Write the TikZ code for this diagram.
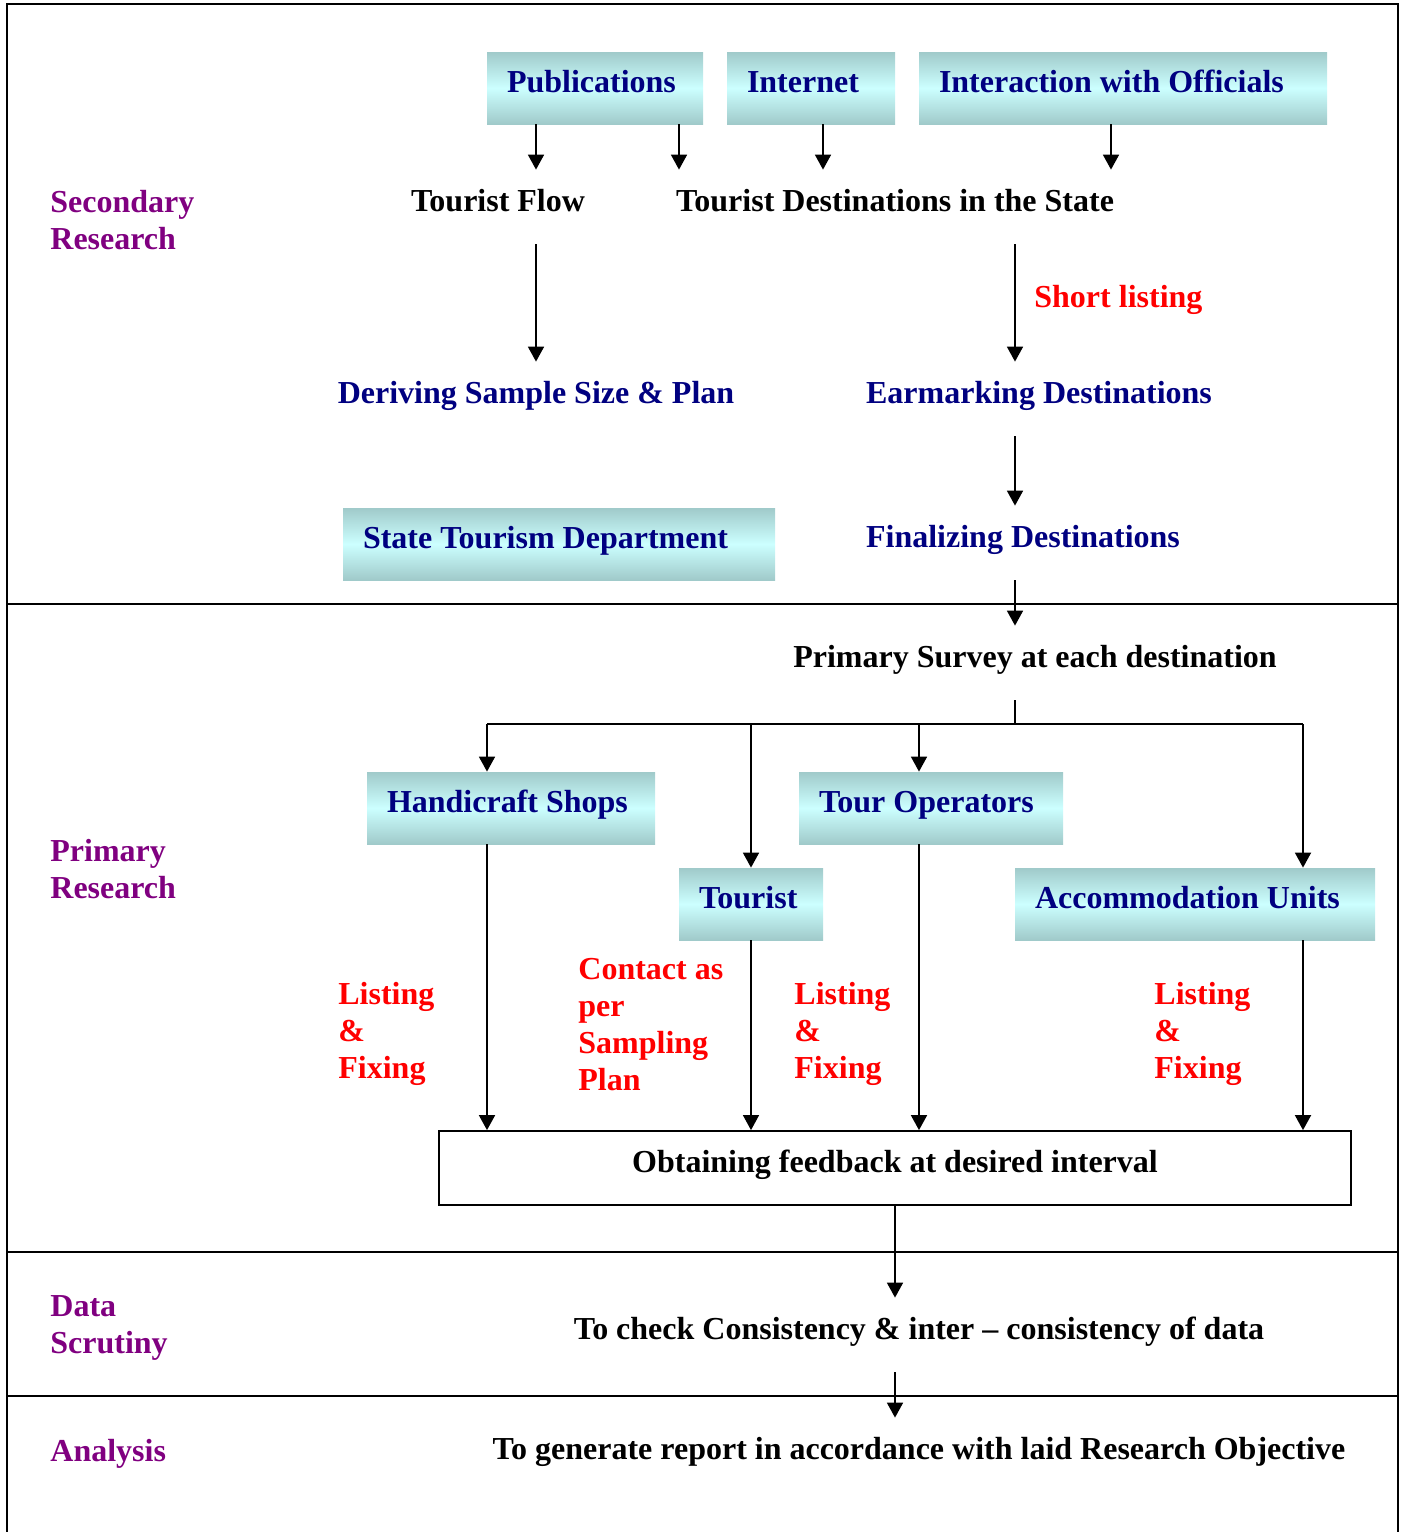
\documentclass[tikz,border=0pt]{standalone}
\usepackage{fontspec}
\setmainfont{Liberation Serif}
\usetikzlibrary{arrows.meta}
\definecolor{navytext}{RGB}{0,0,128}
\definecolor{purplelbl}{RGB}{128,0,128}
\definecolor{boxedge}{RGB}{160,202,202}
\definecolor{boxmid}{RGB}{204,255,255}
\begin{document}
\begin{tikzpicture}[x=0.5pt,y=-0.5pt]
  \tikzset{
    bf/.style={font=\fontsize{16}{18.5}\selectfont\bfseries},
    txt/.style={bf, text height=11pt, text depth=6.4pt, minimum height=37pt, inner xsep=0pt},
    srcbox/.style={txt, text=navytext, top color=boxedge, bottom color=boxedge, middle color=boxmid,
      minimum height=36pt, inner xsep=10pt, align=left, text width=#1,
      execute at begin node={\spaceskip=0pt\relax\xspaceskip=0pt\relax}},
    redlbl/.style={bf, text=red, align=left, anchor=north west, inner sep=0pt},
    seclbl/.style={bf, text=purplelbl, align=left, anchor=north west, inner sep=0pt},
    arr/.style={-{Triangle[width=8pt,length=7.5pt]}, line width=0.9pt}
  }
  \useasboundingbox (0,0) rectangle (1406,1532);

  % frame and bands
  \draw[line width=1pt] (7,1532) -- (7,4) -- (1398,4) -- (1398,1532);
  \draw[line width=1pt] (7,604) -- (1398,604);
  \draw[line width=1pt] (7,1252) -- (1398,1252);
  \draw[line width=1pt] (7,1396) -- (1398,1396);

  % band titles
  \node[seclbl] (secres) at (50,190) {Secondary\\Research};
  \node[seclbl] (primres) at (50,839) {Primary\\Research};
  \node[seclbl] (datascr) at (50,1295) {Data\\Scrutiny};
  \node[seclbl] (analys) at (50,1439) {Analysis};

  % secondary research
  \node[srcbox=88pt] (pub) at (595,88) {Publications};
  \node[srcbox=64pt] (inet) at (811,88) {Internet};
  \node[srcbox=184pt] (offic) at (1123,88) {Interaction with Officials};
  \node[txt] (tflow) at (498,207) {Tourist Flow};
  \node[txt] (tdest) at (895,207) {Tourist Destinations in the State};
  \node[txt, text=navytext] (deriv) at (536,399) {Deriving Sample Size \& Plan};
  \node[txt, text=navytext] (earmark) at (1039,399) {Earmarking Destinations};
  \node[txt, text=red, anchor=west] (shortl) at (1034,303) {Short listing};
  \node[srcbox=196pt] (state) at (559,544) {State Tourism Department};
  \node[txt, text=navytext] (final) at (1023,543) {Finalizing Destinations};

  \coordinate (colb) at (679,0);
  \coordinate (colc) at (823,0);
  \coordinate (cold) at (1111,0);
  \coordinate (spine) at (1015,0);

  \draw[arr] (pub.south -| deriv) -- (tflow.north -| deriv);
  \draw[arr] (pub.south -| colb) -- (tdest.north -| colb);
  \draw[arr] (inet.south -| colc) -- (tdest.north -| colc);
  \draw[arr] (offic.south -| cold) -- (tdest.north -| cold);
  \draw[arr] (tflow.south -| deriv) -- (deriv.north);
  \draw[arr] (tdest.south -| spine) -- (earmark.north -| spine);
  \draw[arr] (earmark.south -| spine) -- (final.north -| spine);

  % primary research
  \node[txt] (survey) at (1035,663) {Primary Survey at each destination};
  \draw[arr] (final.south -| spine) -- (survey.north -| spine);

  \node[srcbox=124pt] (handi) at (511,808) {Handicraft Shops};
  \node[srcbox=112pt] (tourop) at (931,808) {Tour Operators};
  \node[srcbox=52pt] (tourist) at (751,904) {Tourist};
  \node[srcbox=160pt] (accom) at (1195,904) {Accommodation Units};
  \node[txt, draw, fill=white, line width=0.9pt, minimum width=456pt] (feedback) at (895,1168)
    {Obtaining feedback at desired interval};

  \coordinate (split) at (1015,724);
  \coordinate (colh) at (487,0);
  \coordinate (colt) at (919,0);
  \coordinate (colacc) at (1303,0);

  \draw[line width=0.9pt] (survey.south -| spine) -- (split);
  \draw[line width=0.9pt] (colh |- split) -- (colacc |- split);
  \draw[arr] (colh |- split) -- (handi.north -| colh);
  \draw[arr] (tourist |- split) -- (tourist.north);
  \draw[arr] (colt |- split) -- (tourop.north -| colt);
  \draw[arr] (colacc |- split) -- (accom.north -| colacc);

  \draw[arr] (handi.south -| colh) -- (feedback.north -| colh);
  \draw[arr, line width=0.6pt] (tourist.south) -- (feedback.north -| tourist);
  \draw[arr] (tourop.south -| colt) -- (feedback.north -| colt);
  \draw[arr] (accom.south -| colacc) -- (feedback.north -| colacc);

  \node[redlbl] (lfhandi) at (338,982) {Listing\\\&\\Fixing};
  \node[redlbl] (contact) at (578,958) {Contact as\\per\\Sampling\\Plan};
  \node[redlbl] (lftour) at (794,982) {Listing\\\&\\Fixing};
  \node[redlbl] (lfaccom) at (1154,982) {Listing\\\&\\Fixing};

  % scrutiny and analysis
  \node[txt] (check) at (919,1335) {To check Consistency \& inter -- consistency of data};
  \node[txt] (report) at (919,1455) {To generate report in accordance with laid Research Objective};
  \draw[arr] (feedback.south) -- (check.north -| feedback);
  \draw[arr] (check.south -| feedback) -- (report.north -| feedback);
\end{tikzpicture}
\end{document}
